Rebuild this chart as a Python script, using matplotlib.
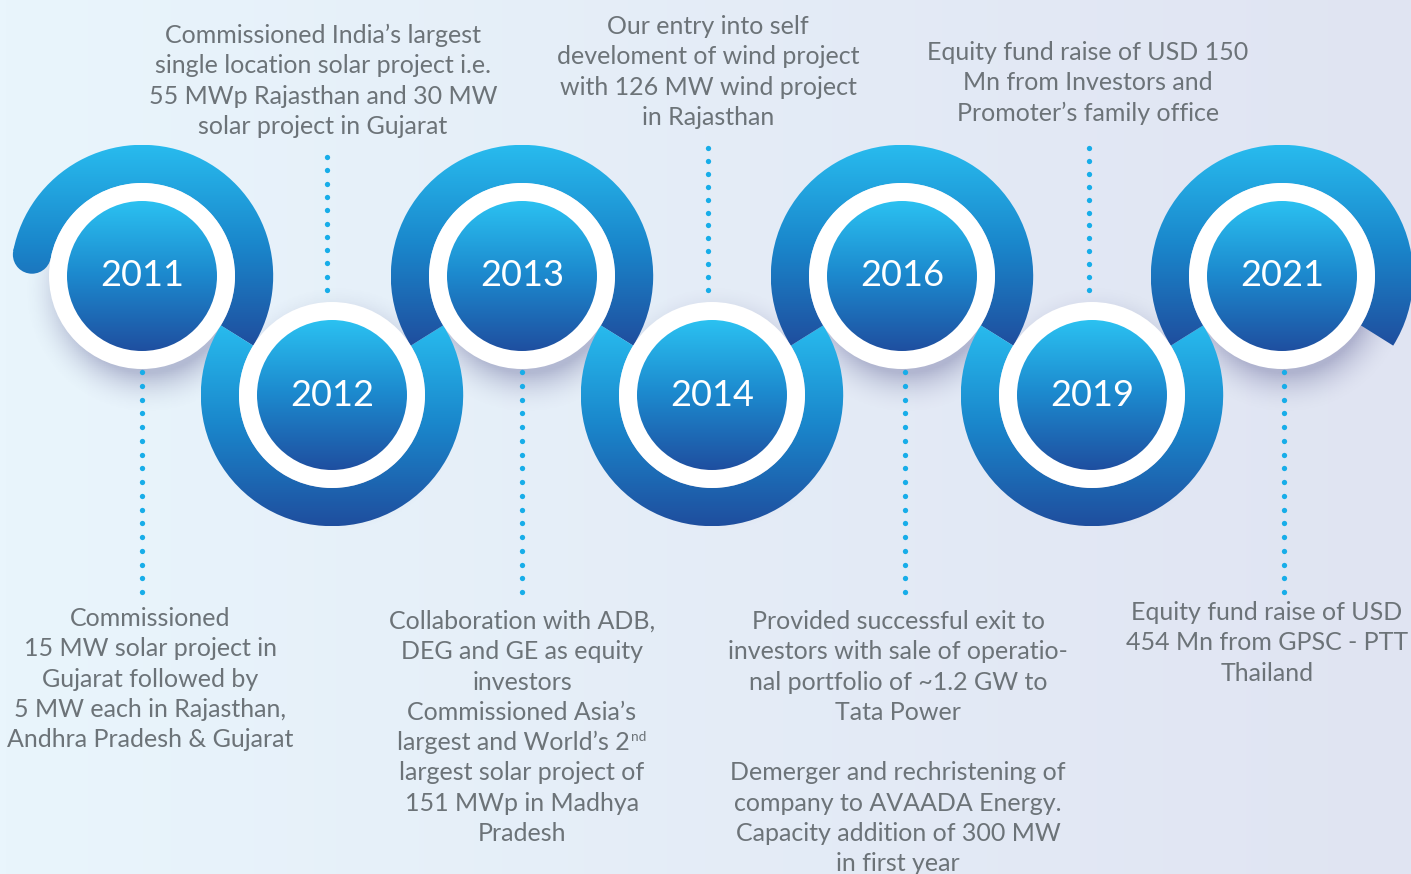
import numpy as np
import matplotlib
matplotlib.use("Agg")
import matplotlib.pyplot as plt
from matplotlib.patches import Circle, Wedge
from matplotlib.colors import LinearSegmentedColormap

W, H = 1411, 874

years = ["2011", "2012", "2013", "2014", "2016", "2019", "2021"]
# "^{..}" marks a superscript
descriptions = [
    "Commissioned\n15 MW solar project in\nGujarat followed by\n5 MW each in Rajasthan,\nAndhra Pradesh & Gujarat",
    "Commissioned India\u2019s largest\nsingle location solar project i.e.\n55 MWp Rajasthan and 30 MW\nsolar project in Gujarat",
    "Collaboration with ADB,\nDEG and GE as equity\ninvestors\nCommissioned Asia\u2019s\n"
    "largest and World\u2019s 2^{nd}\nlargest solar project of\n151 MWp in Madhya\nPradesh",
    "Our entry into self\ndeveloment of wind project\nwith 126 MW wind project\nin Rajasthan",
    "Provided successful exit to\ninvestors with sale of operatio-\nnal portfolio of ~1.2 GW to\nTata Power\n\n"
    "Demerger and rechristening of\ncompany to AVAADA Energy.\nCapacity addition of 300 MW\nin first year",
    "Equity fund raise of USD 150\nMn from Investors and\nPromoter\u2019s family office",
    "Equity fund raise of USD\n454 Mn from GPSC - PTT\nThailand",
]

# layout (pixel coordinates, y measured from the top)
X0, STEP = 142, 190
Y_UP, Y_DOWN = 276, 395
R_IN, R_WHITE = 75, 93
R_OUT = np.hypot(STEP, Y_DOWN - Y_UP) - R_WHITE
SEAM = np.degrees(np.arctan2(Y_DOWN - Y_UP, STEP))
text_x = [150, 323, 522, 708, 898, 1088, 1267]
first_line_y = [617, 34, 620, 25, 620, 51, 611]
dot_x = [142, 327, 522, 708, 905, 1089, 1284]
PITCH = 30.3
FS = 18

TEXT_COLOR = "#6C7378"
DOT_COLOR = "#17ADE9"

plt.rcParams["font.family"] = ["Lato", "DejaVu Sans"]

ring_cmap = LinearSegmentedColormap.from_list("ring", ["#28BBEE", "#1A86CB", "#1F4E9E"])
disc_cmap = LinearSegmentedColormap.from_list("disc", ["#2BC1F1", "#1C88CD", "#1F4FA0"])
bg_cmap = LinearSegmentedColormap.from_list("bg", ["#E9F5FC", "#E0E4F2"])


def Y(py):
    return H - py


def gradient_fill(ax, patch, x0, x1, y_top, y_bot, cmap, z):
    patch.set_facecolor("none")
    patch.set_edgecolor("none")
    ax.add_patch(patch)
    grad = np.linspace(0, 1, 256).reshape(-1, 1)
    im = ax.imshow(grad, cmap=cmap, extent=(x0, x1, Y(y_bot), Y(y_top)),
                   origin="upper", aspect="auto", interpolation="bicubic", zorder=z)
    im.set_clip_path(patch)


fig = plt.figure(figsize=(W / 100, H / 100), dpi=100)
ax = fig.add_axes([0, 0, 1, 1])
ax.axis("off")
ax.set_xlim(0, W)
ax.set_ylim(0, H)

# background
ax.imshow(np.linspace(0, 1, 256).reshape(1, -1), cmap=bg_cmap, extent=(0, W, 0, H),
          aspect="auto", zorder=0)

centers = [(X0 + STEP * i, Y_UP if i % 2 == 0 else Y_DOWN) for i in range(len(years))]

# soft shadows under the white rings
gx, gy = np.meshgrid(np.linspace(0, W, 706), np.linspace(H, 0, 437))
alpha = np.zeros_like(gx)
for cx, cy in centers:
    d = np.hypot(gx - (cx + 5), gy - (Y(cy) - 14))
    alpha = np.maximum(alpha, 0.40 * np.clip(1 - (d - R_WHITE + 10) / 42, 0, 1) ** 2)
shadow = np.zeros(gx.shape + (4,))
shadow[..., 0] = 0.40
shadow[..., 1] = 0.41
shadow[..., 2] = 0.60
shadow[..., 3] = alpha
ax.imshow(shadow, extent=(0, W, 0, H), origin="upper", aspect="auto", zorder=1)

# snake band
width = R_OUT - R_WHITE
for i, (cx, cy) in enumerate(centers):
    if i % 2 == 0:
        t1 = -SEAM
        t2 = 180 + SEAM if i > 0 else 169
        ext = (cx - R_OUT, cx + R_OUT, cy - R_OUT, cy + R_OUT * np.sin(np.radians(SEAM)))
    else:
        t1, t2 = 180 - SEAM, 360 + SEAM
        ext = (cx - R_OUT, cx + R_OUT, cy - R_OUT * np.sin(np.radians(SEAM)), cy + R_OUT)
    gradient_fill(ax, Wedge((cx, Y(cy)), R_OUT, t1, t2, width=width), *ext, ring_cmap, 2)
    if i == 0:
        rm = (R_OUT + R_WHITE) / 2
        cap = Circle((cx + rm * np.cos(np.radians(t2)), Y(cy) + rm * np.sin(np.radians(t2))),
                     width / 2)
        gradient_fill(ax, cap, *ext, ring_cmap, 2)

# white rings, discs and year labels
for year, (cx, cy) in zip(years, centers):
    ax.add_patch(Circle((cx, Y(cy)), R_WHITE, facecolor="white", edgecolor="none", zorder=3))
    gradient_fill(ax, Circle((cx, Y(cy)), R_IN), cx - R_IN, cx + R_IN,
                  cy - R_IN, cy + R_IN, disc_cmap, 4)
    ax.text(cx, Y(cy), year, color="white", fontsize=26, ha="center", va="center", zorder=5)

# dotted connectors
for i, dx in enumerate(dot_x):
    if i % 2 == 0:
        ys = np.linspace(372, 592, 17)
    elif i == 1:
        ys = np.linspace(157, 290, 11)
    else:
        ys = np.linspace(148, 290, 12)
    ax.plot(np.full(len(ys), dx), Y(ys), linestyle="none", marker="o", markersize=3.8,
            color=DOT_COLOR, markeredgewidth=0, zorder=2)

# descriptions, one line at a time
renderer = fig.canvas.get_renderer()
for desc, tx, ty in zip(descriptions, text_x, first_line_y):
    for k, line in enumerate(desc.split("\n")):
        if not line:
            continue
        base_y = Y(ty + k * PITCH + 9)
        if "^{" in line:
            main, sup = line.split("^{")
            sup = sup.rstrip("}")
            t_main = ax.text(0, base_y, main, color=TEXT_COLOR, fontsize=FS,
                             ha="left", va="baseline", zorder=2)
            t_sup = ax.text(0, base_y + 9, sup, color=TEXT_COLOR, fontsize=FS * 0.55,
                            ha="left", va="baseline", zorder=2)
            w_main = t_main.get_window_extent(renderer).width
            w_sup = t_sup.get_window_extent(renderer).width
            x_left = tx - (w_main + w_sup + 1) / 2
            t_main.set_x(x_left)
            t_sup.set_x(x_left + w_main + 1)
        else:
            ax.text(tx, base_y, line, color=TEXT_COLOR, fontsize=FS,
                    ha="center", va="baseline", zorder=2)

ax.set_xlim(0, W)
ax.set_ylim(0, H)
fig.savefig("out.png", dpi=100)
